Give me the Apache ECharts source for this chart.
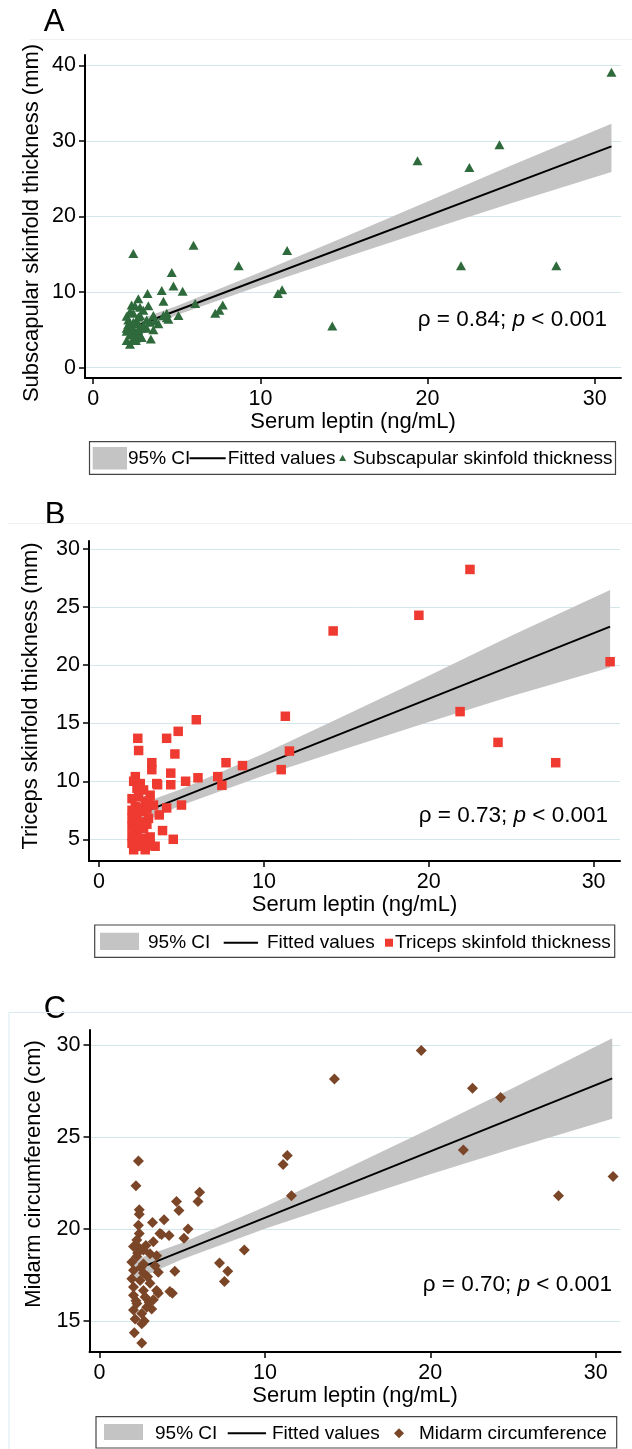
<!DOCTYPE html>
<html>
<head>
<meta charset="utf-8">
<script src="https://cdn.jsdelivr.net/npm/echarts@6/dist/echarts.min.js"></script>
<style>
html, body { margin: 0; padding: 0; background: #fff; }
#chart { width: 632px; height: 1449px; }
</style>
</head>
<body>
<div id="chart"></div>
<script>
// valeurs (leptine sérique en abscisse)

const xTicks = [0, 10, 20, 30];

// A - pli sous-scapulaire (mm)
const subscapTicks = [0, 10, 20, 30, 40];
const subscapPts = [
  [31.0, 39.1], [24.3, 29.5], [19.4, 27.4], [22.5, 26.5], [22.0, 13.5], [27.7, 13.5],
  [14.3, 5.5], [11.6, 15.5], [11.3, 10.3], [11.05, 9.8], [8.7, 13.5], [6.0, 16.2],
  [2.4, 15.1], [6.1, 8.5], [7.75, 8.3], [7.55, 7.6], [7.3, 7.2], [5.1, 6.9],
  [4.7, 12.6], [4.8, 10.8], [5.35, 10.1], [4.1, 10.2], [4.2, 8.8], [3.25, 9.8],
  [3.3, 8.2], [2.7, 9.1], [4.4, 7.2], [4.5, 6.4], [3.45, 3.8],
  [2.3, 8.3], [2.8, 8.0], [4.4, 6.6], [3.6, 6.9], [3.2, 6.3], [2.4, 7.2], [2.1, 6.3],
  [2.6, 5.8], [3.9, 5.8], [2.0, 5.2], [2.9, 5.2], [3.6, 5.0], [2.2, 4.3], [2.8, 4.3],
  [2.0, 3.6], [2.4, 3.8], [3.2, 5.2], [2.5, 4.7], [2.3, 5.4], [2.7, 6.7], [3.0, 7.6],
  [2.2, 7.4], [2.55, 3.6], [2.2, 3.1], [2.55, 3.9], [4.2, 6.9], [2.0, 4.8], [2.6, 6.2],
  [3.0, 5.6], [2.4, 6.0], [2.1, 5.7], [3.4, 6.0], [2.9, 4.0], [2.3, 4.5], [2.7, 5.0],
  [3.7, 6.2], [2.5, 8.2], [2.0, 6.8], [2.8, 6.9]
];
const subscapFitX = [2.0, 31.0];
const subscapFitY = [5.04, 29.29];
const subscapCiX = [2, 5, 10, 15, 20, 25, 31];
const subscapCiLo = [4.29, 6.95, 10.83, 14.56, 18.19, 21.77, 25.9];
const subscapCiHi = [5.79, 8.15, 12.63, 17.26, 21.99, 26.77, 32.3];

// B - pli tricipital (mm)
const tricepsTicks = [5, 10, 15, 20, 25, 30];
const tricepsPts = [
  [22.5, 28.25], [19.4, 24.3], [14.2, 22.95], [31.0, 20.3], [21.9, 16.0], [24.2, 13.35],
  [27.7, 11.6], [11.3, 15.6], [11.55, 12.6], [11.05, 11.0], [8.7, 11.35], [7.7, 11.6],
  [7.2, 10.4], [7.45, 9.65], [5.9, 15.3], [6.0, 10.3], [5.25, 10.0], [5.0, 7.95],
  [4.8, 14.3], [4.1, 13.7], [4.6, 12.35], [4.35, 10.7], [4.35, 9.7], [4.1, 7.7],
  [3.85, 5.75], [4.5, 5.0], [2.35, 13.7], [2.4, 12.65], [3.2, 11.6], [3.2, 11.0],
  [3.55, 9.7], [3.65, 7.1],
  [2.2, 10.4], [2.1, 10.0], [2.5, 9.8], [3.5, 9.8], [2.7, 9.25], [3.1, 8.8], [2.4, 8.65],
  [2.8, 8.25], [3.3, 7.95], [2.0, 7.5], [2.6, 7.4], [2.0, 6.8], [3.0, 6.8], [2.0, 6.1],
  [2.7, 5.95], [2.3, 5.4], [3.1, 5.2], [2.0, 4.65], [2.6, 4.4], [3.1, 4.5], [2.1, 4.1],
  [2.8, 4.1], [2.3, 7.0], [2.5, 6.5], [2.2, 5.8], [2.4, 4.8], [2.9, 6.3], [2.2, 7.8],
  [2.6, 5.1], [3.4, 4.4], [2.0, 5.3], [2.5, 7.7], [2.9, 7.6], [3.0, 8.3], [2.3, 9.4],
  [2.0, 8.5]
];
const tricepsFitX = [2.0, 31.0];
const tricepsFitY = [6.93, 23.32];
const tricepsCiX = [2, 5, 10, 15, 20, 25, 31];
const tricepsCiLo = [6.08, 7.93, 10.5, 12.83, 15.1, 17.33, 19.8];
const tricepsCiHi = [7.78, 9.33, 12.4, 15.73, 19.1, 22.53, 26.47];

// C - circonférence brachiale (cm)
const midarmTicks = [15, 20, 25, 30];
const midarmPts = [
  [19.45, 29.7], [14.2, 28.15], [22.55, 27.65], [24.25, 27.15], [22.0, 24.3], [31.05, 22.85],
  [27.75, 21.8], [11.35, 24.0], [11.1, 23.5], [11.6, 21.8], [8.75, 18.85], [7.25, 18.15],
  [7.75, 17.7], [7.55, 17.15], [6.05, 22.0], [5.95, 21.5], [4.65, 21.5], [4.8, 21.0],
  [5.35, 20.0], [5.1, 19.5], [4.55, 17.7], [4.4, 16.5], [3.9, 20.5], [3.2, 20.35],
  [3.75, 19.7], [4.2, 19.65], [3.55, 17.65], [3.55, 16.5], [3.15, 15.65], [2.7, 15.0],
  [2.35, 23.7], [2.2, 22.35], [2.4, 21.05], [2.4, 20.8], [2.35, 20.2], [2.4, 19.75],
  [2.1, 14.35], [2.55, 13.8],
  [2.25, 19.4], [3.65, 19.75], [3.25, 19.3], [2.05, 19.05], [2.65, 18.85], [3.05, 18.65],
  [3.45, 18.55], [2.25, 18.5], [1.95, 18.2], [2.65, 18.1], [3.35, 18.0], [2.05, 17.75],
  [2.65, 17.6], [1.95, 17.3], [2.45, 17.2], [3.05, 17.05], [2.05, 16.85], [2.65, 16.65],
  [3.45, 16.65], [4.25, 16.6], [2.05, 16.4], [2.75, 16.3], [3.25, 16.15], [2.25, 15.95],
  [2.85, 15.75], [2.05, 15.6], [2.55, 15.4], [2.15, 15.1], [2.55, 14.85], [2.35, 19.0],
  [2.8, 19.1], [2.5, 17.9], [2.2, 16.1], [3.0, 16.0], [2.9, 17.4], [2.3, 18.7]
];
const midarmFitX = [2.0, 31.0];
const midarmFitY = [17.72, 28.19];
const midarmCiX = [2, 5, 10, 15, 20, 25, 31];
const midarmCiLo = [17.17, 18.35, 20.01, 21.51, 22.97, 24.37, 25.99];
const midarmCiHi = [18.27, 19.25, 21.21, 23.31, 25.47, 27.67, 30.37];

const FONT = '"Liberation Sans", Arial, sans-serif';
const CI_GRAY = '#c4c4c4';

// mise en page des trois panneaux (pixels)
const panels = [
  {
    letter: 'A', grid: { left: 85, top: 55, width: 536, height: 323 },
    xRange: [-0.49, 31.57], yRange: [-1.38, 41.4], yTicks: subscapTicks,
    pts: subscapPts, fitX: subscapFitX, fitY: subscapFitY,
    ciX: subscapCiX, ciLo: subscapCiLo, ciHi: subscapCiHi,
    symbol: 'triangle', symbolSize: [10, 9], color: '#2e6a3b',
    yTitle: 'Subscapular skinfold thickness (mm)', yTitlePos: [32, 223],
    stat: 'ρ = 0.84; ', statPos: [607, 320], letterPos: [54, 22], xNameGap: 32,
    legend: { box: [89.5, 441.7, 526, 32.6], sw: [92.7, 447, 34.3, 22.5], ci: 128,
      line: [189.5, 225.7], fit: 227.7, mark: 342.6, markSize: 7, label: 352.7, cy: 458.3,
      text: 'Subscapular skinfold thickness' },
    topLine: { x: 30, y: 39.5, color: '#eef1f2' }
  },
  {
    letter: 'B', grid: { left: 89, top: 541, width: 531, height: 320 },
    xRange: [-0.61, 31.6], yRange: [3.13, 30.7], yTicks: tricepsTicks,
    pts: tricepsPts, fitX: tricepsFitX, fitY: tricepsFitY,
    ciX: tricepsCiX, ciLo: tricepsCiLo, ciHi: tricepsCiHi,
    symbol: 'rect', symbolSize: 9.5, color: '#ee3a31',
    yTitle: 'Triceps skinfold thickness (mm)', yTitlePos: [31, 696],
    stat: 'ρ = 0.73; ', statPos: [608, 816], letterPos: [55, 515], xNameGap: 31,
    legend: { box: [94.7, 925, 520, 32.3], sw: [100, 932.7, 39, 17.3], ci: 148,
      line: [223.7, 258], fit: 267, mark: 389, markSize: 8, label: 395, cy: 942.7,
      text: 'Triceps skinfold thickness' },
    topLine: { x: 8, y: 523.5, color: '#eef1f2' }
  },
  {
    letter: 'C', grid: { left: 89.5, top: 1030, width: 531, height: 322 },
    xRange: [-0.61, 31.5], yRange: [13.31, 30.82], yTicks: midarmTicks,
    pts: midarmPts, fitX: midarmFitX, fitY: midarmFitY,
    ciX: midarmCiX, ciLo: midarmCiLo, ciHi: midarmCiHi,
    symbol: 'diamond', symbolSize: 11, color: '#7b4628',
    yTitle: 'Midarm circumference (cm)', yTitlePos: [34, 1174],
    stat: 'ρ = 0.70; ', statPos: [612, 1285], letterPos: [55, 1009], xNameGap: 30,
    legend: { box: [96, 1416.7, 520.7, 31.3], sw: [104, 1424, 39, 16], ci: 155,
      line: [227.7, 266], fit: 272, mark: 399, markSize: 10, label: 419, cy: 1433.3,
      text: 'Midarm circumference' },
    topLine: { x: 9, y: 1012.5, color: '#d7eaee', side: true }
  }
];

function bandSeries(i, p) {
  return {
    type: 'custom', xAxisIndex: i, yAxisIndex: i, silent: true, z: 1, clip: true,
    data: p.ciX.map((x, k) => [x, p.ciLo[k], p.ciHi[k]]),
    encode: { x: 0, y: [1, 2] },
    renderItem: (params, api) => {
      if (params.dataIndex !== 0) return null;
      const pts = [];
      p.ciX.forEach((x, k) => pts.push(api.coord([x, p.ciHi[k]])));
      for (let k = p.ciX.length - 1; k >= 0; k--) pts.push(api.coord([p.ciX[k], p.ciLo[k]]));
      return { type: 'polygon', shape: { points: pts }, style: { fill: CI_GRAY } };
    }
  };
}

function legendMarker(p, L) {
  const cx = L.mark, cy = L.cy, s = L.markSize / 2;
  if (p.symbol === 'triangle') {
    return { type: 'polygon', shape: { points: [[cx, cy - s], [cx + s, cy + s * 0.8], [cx - s, cy + s * 0.8]] }, style: { fill: p.color } };
  }
  if (p.symbol === 'rect') {
    return { type: 'rect', shape: { x: cx - s, y: cy - s, width: 2 * s, height: 2 * s }, style: { fill: p.color } };
  }
  return { type: 'polygon', shape: { points: [[cx, cy - s], [cx + s, cy], [cx, cy + s], [cx - s, cy]] }, style: { fill: p.color } };
}

const grids = [], xAxes = [], yAxes = [], series = [], graphics = [];

panels.forEach((p, i) => {
  grids.push(Object.assign({ outerBoundsMode: 'none', containLabel: false }, p.grid));

  xAxes.push({
    type: 'value', gridIndex: i, min: p.xRange[0], max: p.xRange[1],
    name: 'Serum leptin (ng/mL)', nameLocation: 'middle', nameGap: p.xNameGap,
    nameTextStyle: { fontSize: 22, fontFamily: FONT, color: '#000' },
    axisLine: { show: true, onZero: false, lineStyle: { color: '#000', width: 2 } },
    axisTick: { show: true, inside: false, length: 6, customValues: xTicks, lineStyle: { color: '#000', width: 1.5 } },
    axisLabel: { customValues: xTicks, fontSize: 21.5, fontFamily: FONT, color: '#000', margin: 10 },
    splitLine: { show: false }
  });

  yAxes.push({
    type: 'value', gridIndex: i, min: p.yRange[0], max: p.yRange[1],
    axisLine: { show: true, onZero: false, lineStyle: { color: '#000', width: 2 } },
    axisTick: { show: true, inside: false, length: 6, customValues: p.yTicks, lineStyle: { color: '#000', width: 1.5 } },
    axisLabel: { customValues: p.yTicks, fontSize: 21.5, fontFamily: FONT, color: '#000', margin: 9 },
    splitLine: { show: true, lineStyle: { color: '#d3e6ea', width: 1 } }
  });

  series.push(bandSeries(i, p));
  series.push({
    type: 'line', xAxisIndex: i, yAxisIndex: i, z: 2, silent: true,
    data: p.fitX.map((x, k) => [x, p.fitY[k]]),
    showSymbol: false, symbol: 'none',
    lineStyle: { color: '#000', width: 2 }
  });
  series.push({
    type: 'scatter', xAxisIndex: i, yAxisIndex: i, z: 3,
    data: p.pts, symbol: p.symbol, symbolSize: p.symbolSize,
    itemStyle: { color: p.color, opacity: 1 }
  });

  // lettre du panneau
  graphics.push({
    type: 'text', x: p.letterPos[0], y: p.letterPos[1],
    style: { text: p.letter, fontSize: 31, fontFamily: FONT, fill: '#000', align: 'center', verticalAlign: 'middle' }
  });
  // titre axe vertical
  graphics.push({
    type: 'text', x: p.yTitlePos[0], y: p.yTitlePos[1], rotation: Math.PI / 2,
    style: { text: p.yTitle, fontSize: 22, fontFamily: FONT, fill: '#000', align: 'center', verticalAlign: 'middle' }
  });
  // coefficient de Spearman
  graphics.push({
    type: 'text', x: p.statPos[0], y: p.statPos[1],
    style: {
      text: '{n|' + p.stat + '}{i|p}{n| < 0.001}',
      align: 'right', verticalAlign: 'middle',
      rich: {
        n: { fontSize: 22.5, fontFamily: FONT, fill: '#000', color: '#000' },
        i: { fontSize: 22.5, fontFamily: FONT, fontStyle: 'italic', fill: '#000', color: '#000' }
      }
    }
  });
  // contour léger de la zone graphique
  const t = p.topLine;
  graphics.push({ type: 'line', shape: { x1: t.x, y1: t.y, x2: 632, y2: t.y }, style: { stroke: t.color, lineWidth: 1 } });
  if (t.side) {
    graphics.push({ type: 'line', shape: { x1: t.x, y1: t.y, x2: t.x, y2: 1449 }, style: { stroke: t.color, lineWidth: 1 } });
  }

  // légende façon Stata
  const L = p.legend;
  graphics.push({ type: 'rect', shape: { x: L.box[0], y: L.box[1], width: L.box[2], height: L.box[3] }, style: { fill: '#fff', stroke: '#444', lineWidth: 1.2 } });
  graphics.push({ type: 'rect', shape: { x: L.sw[0], y: L.sw[1], width: L.sw[2], height: L.sw[3] }, style: { fill: CI_GRAY } });
  graphics.push({ type: 'text', x: L.ci, y: L.cy, style: { text: '95% CI', fontSize: 19, fontFamily: FONT, fill: '#000', align: 'left', verticalAlign: 'middle' } });
  graphics.push({ type: 'line', shape: { x1: L.line[0], y1: L.cy, x2: L.line[1], y2: L.cy }, style: { stroke: '#000', lineWidth: 2 } });
  graphics.push({ type: 'text', x: L.fit, y: L.cy, style: { text: 'Fitted values', fontSize: 19, fontFamily: FONT, fill: '#000', align: 'left', verticalAlign: 'middle' } });
  graphics.push(legendMarker(p, L));
  graphics.push({ type: 'text', x: L.label, y: L.cy, style: { text: L.text, fontSize: 19, fontFamily: FONT, fill: '#000', align: 'left', verticalAlign: 'middle' } });
});

const chart = echarts.init(document.getElementById('chart'), null, { renderer: 'canvas' });
chart.setOption({
  animation: false,
  backgroundColor: '#fff',
  textStyle: { fontFamily: FONT },
  grid: grids,
  xAxis: xAxes,
  yAxis: yAxes,
  series: series,
  graphic: graphics
});
</script>
</body>
</html>
